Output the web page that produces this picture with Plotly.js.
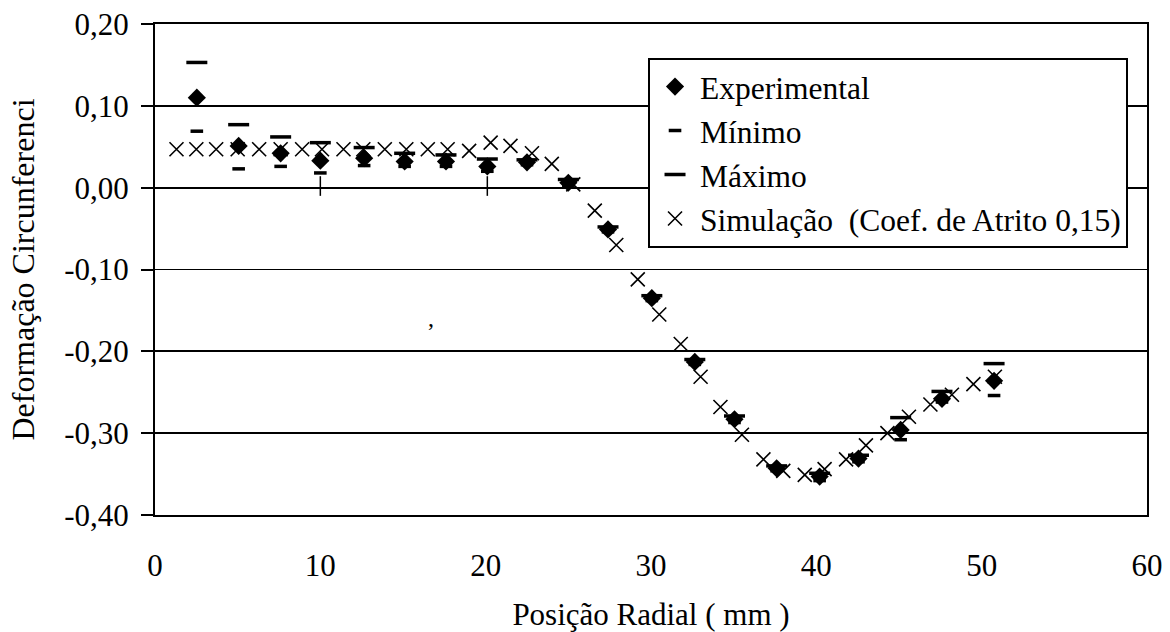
<!DOCTYPE html>
<html>
<head>
<meta charset="utf-8">
<script src="https://cdn.plot.ly/plotly-3.0.1.min.js"></script>
<style>html,body{margin:0;padding:0;background:#fff}#chart{width:1170px;height:632px}</style>
</head>
<body>
<div id="chart"></div>
<script>
// Experimental data
const expX   = [2.53, 5.06, 7.6, 10.0, 12.65, 15.1, 17.6, 20.1, 22.5, 25.0, 27.4, 30.05, 32.65, 35.05, 37.6, 40.2, 42.55, 45.1, 47.6, 50.75];
const expY   = [0.110, 0.051, 0.042, 0.033, 0.036, 0.032, 0.032, 0.026, 0.031, 0.006, -0.051, -0.135, -0.213, -0.283, -0.343, -0.353, -0.331, -0.296, -0.258, -0.236];
const minY   = [0.069, 0.023, 0.026, 0.018, 0.027, 0.026, 0.026, 0.020, 0.028, 0.003, -0.054, -0.138, -0.216, -0.287, -0.346, -0.358, -0.335, -0.308, -0.262, -0.254];
const maxY   = [0.153, 0.077, 0.062, 0.055, 0.049, 0.042, 0.040, 0.035, 0.034, 0.010, -0.048, -0.132, -0.210, -0.279, -0.340, -0.349, -0.327, -0.281, -0.249, -0.215];
// Simulation data
const simX = [1.3, 2.5, 3.7, 5.0, 6.3, 7.6, 8.9, 10.1, 11.4, 12.6, 13.9, 15.2, 16.5, 17.7, 19.0, 20.3, 21.5, 22.8, 24.0, 25.3, 26.6, 27.9, 29.2, 30.5, 31.8, 33.0, 34.2, 35.5, 36.8, 38.0, 39.3, 40.5, 41.8, 43.0, 44.3, 45.6, 46.9, 48.2, 49.5, 50.8];
const simY = [0.047, 0.047, 0.047, 0.047, 0.047, 0.047, 0.047, 0.047, 0.047, 0.047, 0.047, 0.047, 0.047, 0.047, 0.045, 0.055, 0.051, 0.042, 0.029, 0.004, -0.028, -0.070, -0.112, -0.155, -0.191, -0.231, -0.268, -0.302, -0.332, -0.346, -0.351, -0.344, -0.332, -0.315, -0.300, -0.280, -0.265, -0.253, -0.240, -0.231];
// stray vertical marks
const tickX = [10.0, 10.0, null, 20.1, 20.1];
const tickY = [0.014, -0.010, null, 0.014, -0.010];

// axis tick labels
const yTickVals = [-0.4, -0.3, -0.2, -0.1, 0, 0.1, 0.2];
const yTickText = ['-0,40', '-0,30', '-0,20', '-0,10', '0,00', '0,10', '0,20'];
const xTickVals = [0, 10, 20, 30, 40, 50, 60];
const xTickText = ['0', '10', '20', '30', '40', '50', '60'];

const names = ['Experimental', 'Mínimo', 'Máximo', 'Simulação  (Coef. de Atrito 0,15)'];
const xTitle = 'Posição Radial ( mm )';
const yTitle = 'Deformação Circunferenci';

const font = {family: 'Liberation Serif, Times New Roman, serif', size: 31, color: '#000'};
const legendFont = {family: font.family, size: 31.5, color: '#000'};
const yTitleFont = {family: font.family, size: 32, color: '#000'};

const traces = [
  {x: expX, y: expY, name: names[0], mode: 'markers', type: 'scatter',
   marker: {symbol: 'diamond', size: 14, color: '#000'}},
  {x: expX, y: minY, name: names[1], mode: 'markers', type: 'scatter',
   marker: {symbol: 'line-ew', size: 9, color: '#000', line: {color: '#000', width: 3.5}}},
  {x: expX, y: maxY, name: names[2], mode: 'markers', type: 'scatter',
   marker: {symbol: 'line-ew', size: 15, color: '#000', line: {color: '#000', width: 3.5}}},
  {x: simX, y: simY, name: names[3], mode: 'markers', type: 'scatter',
   marker: {symbol: 'x-thin-open', size: 14, color: '#000', line: {color: '#000', width: 1.6}}},
  {x: tickX, y: tickY, mode: 'lines', type: 'scatter', showlegend: false, hoverinfo: 'skip',
   line: {color: '#000', width: 1.5}}
];

const layout = {
  width: 1170, height: 632,
  margin: {l: 155, r: 23, t: 24, b: 117},
  paper_bgcolor: '#fff', plot_bgcolor: '#fff',
  font: font,
  showlegend: true,
  legend: {x: 0.497, y: 0.9315, xanchor: 'left', yanchor: 'top',
    bordercolor: '#000', borderwidth: 2, bgcolor: '#fff',
    font: legendFont, tracegroupgap: 0, itemwidth: 40},
  xaxis: {range: [0, 60], tickmode: 'array', tickvals: xTickVals, ticktext: xTickText,
    showgrid: false, zeroline: false,
    showline: true, mirror: true, linecolor: '#000', linewidth: 2,
    ticks: 'outside', ticklen: 0, tickcolor: 'rgba(0,0,0,0)', ticklabelstandoff: 22,
    tickfont: font,
    title: {text: xTitle, font: font, standoff: 24}},
  yaxis: {range: [-0.4, 0.2], tickmode: 'array', tickvals: yTickVals, ticktext: yTickText,
    showgrid: true, gridcolor: '#000', gridwidth: 1.8, zeroline: false,
    showline: true, mirror: true, linecolor: '#000', linewidth: 2,
    ticks: 'outside', ticklen: 12, tickcolor: '#000', tickwidth: 2, ticklabelstandoff: 6,
    tickfont: font,
    title: {text: yTitle, font: yTitleFont, standoff: 20}},
  annotations: [{x: 16.7, y: -0.159, xref: 'x', yref: 'y', text: ',', showarrow: false,
    font: {family: font.family, size: 24, color: '#000'}}]
};

Plotly.newPlot('chart', traces, layout, {displayModeBar: false, staticPlot: true});
</script>
</body>
</html>
